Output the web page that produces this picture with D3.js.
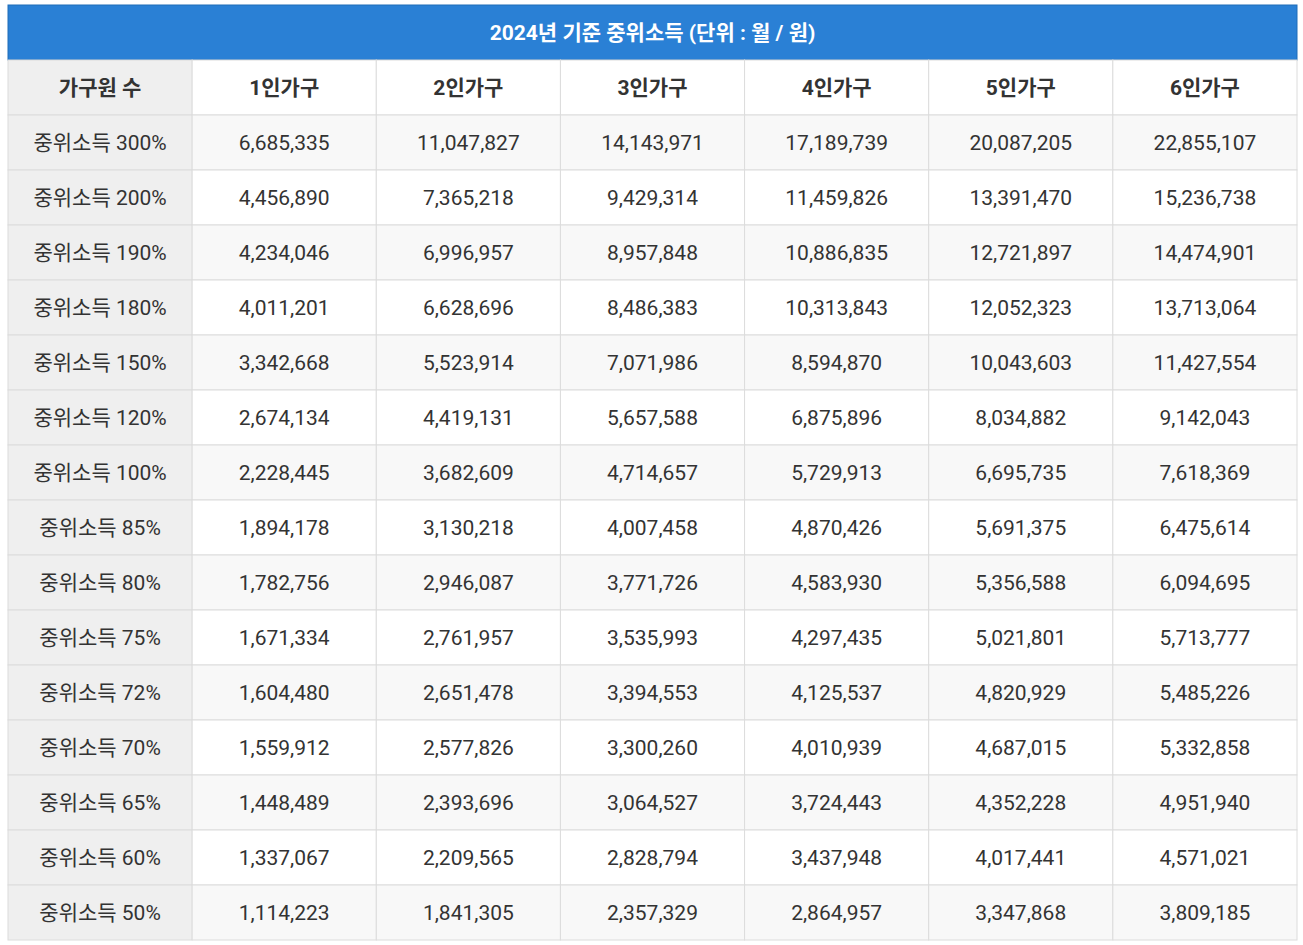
<!DOCTYPE html>
<html><head><meta charset="utf-8">
<script src="https://cdn.jsdelivr.net/npm/d3@7"></script>
<style>body{margin:0;background:#fff}</style></head>
<body><svg id="c" width="1303" height="945"></svg>
<script>
const title = "2024년 기준 중위소득 (단위 : 월 / 원)";
const headers = ["가구원 수","1인가구","2인가구","3인가구","4인가구","5인가구","6인가구"];
const rowLabels = ["중위소득 300%","중위소득 200%","중위소득 190%","중위소득 180%","중위소득 150%","중위소득 120%","중위소득 100%","중위소득 85%","중위소득 80%","중위소득 75%","중위소득 72%","중위소득 70%","중위소득 65%","중위소득 60%","중위소득 50%"];
const p1 = [6685335,4456890,4234046,4011201,3342668,2674134,2228445,1894178,1782756,1671334,1604480,1559912,1448489,1337067,1114223];
const p2 = [11047827,7365218,6996957,6628696,5523914,4419131,3682609,3130218,2946087,2761957,2651478,2577826,2393696,2209565,1841305];
const p3 = [14143971,9429314,8957848,8486383,7071986,5657588,4714657,4007458,3771726,3535993,3394553,3300260,3064527,2828794,2357329];
const p4 = [17189739,11459826,10886835,10313843,8594870,6875896,5729913,4870426,4583930,4297435,4125537,4010939,3724443,3437948,2864957];
const p5 = [20087205,13391470,12721897,12052323,10043603,8034882,6695735,5691375,5356588,5021801,4820929,4687015,4352228,4017441,3347868];
const p6 = [22855107,15236738,14474901,13713064,11427554,9142043,7618369,6475614,6094695,5713777,5485226,5332858,4951940,4571021,3809185];
const series = [p1,p2,p3,p4,p5,p6];

const svg = d3.select("#c");
const font = "Roboto, 'Noto Sans CJK KR', sans-serif";
const L=8,R=1297,T=5,TH=55,HY=60;
const x = d3.scaleBand().domain(d3.range(7)).range([L,R]);
const y = d3.scaleBand().domain(d3.range(16)).range([HY,940]);
svg.append("rect").attr("x",L).attr("y",T).attr("width",R-L).attr("height",TH).attr("fill","#2a80d5").attr("stroke","#1f6cb8");
svg.append("text").attr("x",(L+R)/2).attr("y",T+TH/2).attr("dy","0.36em").attr("text-anchor","middle")
  .attr("fill","#fff").attr("font-family",font).attr("font-size",21).attr("font-weight","bold").text(title);
const fmt = d3.format(",");
for(let r=0;r<16;r++){
  for(let c=0;c<7;c++){
    let bg = c===0 ? "#efefef" : (r>0 && r%2===1 ? "#f8f8f8" : "#fff");
    svg.append("rect").attr("x",x(c)).attr("y",y(r)).attr("width",x.bandwidth()).attr("height",y.bandwidth())
      .attr("fill",bg).attr("stroke","#dcdcdc");
    let t = r===0 ? headers[c] : (c===0 ? rowLabels[r-1] : fmt(series[c-1][r-1]));
    svg.append("text").attr("x",x(c)+x.bandwidth()/2).attr("y",y(r)+y.bandwidth()/2).attr("dy","0.36em")
      .attr("text-anchor","middle").attr("font-family",font).attr("font-size",r===0?21:21)
      .attr("font-weight",r===0?"bold":"normal").attr("fill","#333").text(t);
  }
}
</script></body></html>
